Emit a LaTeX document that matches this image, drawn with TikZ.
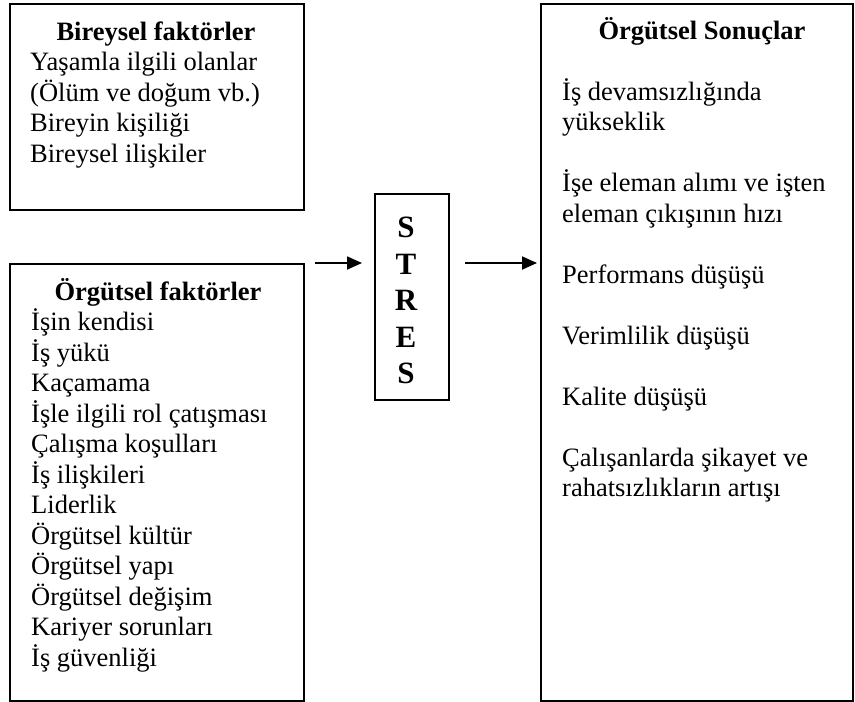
\documentclass[tikz,border=0pt]{standalone}
\usepackage{fontspec}
\setmainfont{Liberation Serif}
\usetikzlibrary{arrows.meta}
\begin{document}
\begin{tikzpicture}[x=1pt,y=-1pt,
  box/.style={draw, line width=1.8pt, anchor=north west, inner sep=0pt},
  txt/.style={anchor=base west, inner sep=0pt, font=\fontsize{26.5}{30.5}\selectfont},
  ttl/.style={anchor=base, inner sep=0pt, font=\fontsize{26.5}{30.5}\selectfont\bfseries},
  big/.style={anchor=base, inner sep=0pt, font=\fontsize{31}{36.5}\selectfont\bfseries},
  arr/.style={line width=1.8pt, -{Triangle[length=15pt,width=13pt]}}]
\useasboundingbox (0,0) rectangle (855,702);
% boxes
\node[box, minimum width=294pt, minimum height=206pt] (b1) at (9,3) {};
\node[box, minimum width=294pt, minimum height=437pt] (b2) at (9,263) {};
\node[box, minimum width=74pt, minimum height=206pt] (st) at (374,193) {};
\node[box, minimum width=312pt, minimum height=697pt] (rb) at (540,3) {};
% box 1
\node[ttl] (b1t) at (156,40) {Bireysel faktörler};
\foreach [count=\i] \t in {Yaşamla ilgili olanlar, {(Ölüm ve doğum vb.)}, Bireyin kişiliği, Bireysel ilişkiler}
  \node[txt] (b1l\i) at (30,40+30.5*\i) {\t};
% box 2
\node[ttl] (b2t) at (158,300) {Örgütsel faktörler};
\foreach [count=\i] \t in {İşin kendisi, İş yükü, Kaçamama, İşle ilgili rol çatışması, Çalışma koşulları, İş ilişkileri, Liderlik, Örgütsel kültür, Örgütsel yapı, Örgütsel değişim, Kariyer sorunları, İş güvenliği}
  \node[txt] (b2l\i) at (31,300+30.5*\i) {\t};
% STRES
\foreach [count=\i] \t in {S,T,R,E,S}
  \node[big] (s\i) at (406,237.5+36.5*\i-36.5) {\t};
% right box
\node[ttl] (rbt) at (702,39) {Örgütsel Sonuçlar};
\foreach [count=\i] \k/\t in {2/İş devamsızlığında, 3/yükseklik, 5/İşe eleman alımı ve işten, 6/eleman çıkışının hızı, 8/Performans düşüşü, 10/Verimlilik düşüşü, 12/Kalite düşüşü, 14/Çalışanlarda şikayet ve, 15/rahatsızlıkların artışı}
  \node[txt] (rl\i) at (562,39+30.5*\k) {\t};
% arrows
\draw[arr, shorten <=10pt, shorten >=12pt] (b2.north east) -- (b2.north east -| st.west);
\draw[arr, shorten <=15pt, shorten >=3pt] (st.east |- b2.north) -- (rb.west |- b2.north);
\end{tikzpicture}
\end{document}
